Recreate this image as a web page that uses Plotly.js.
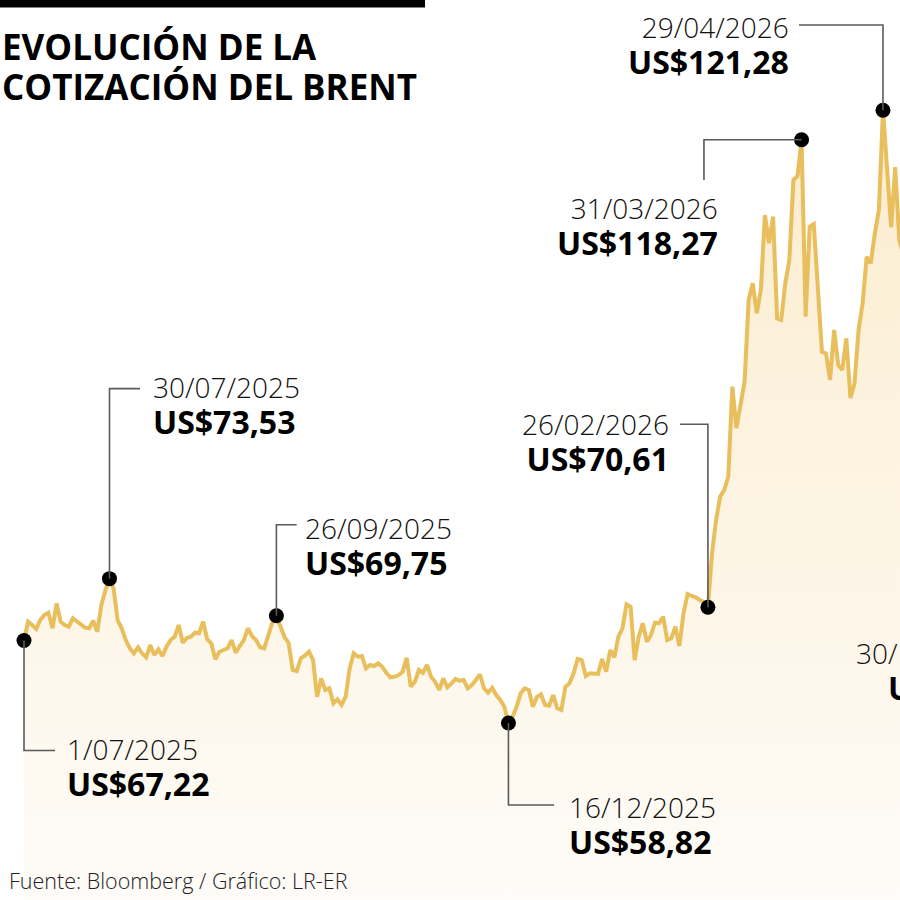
<!DOCTYPE html>
<html>
<head>
<meta charset="utf-8">
<script src="https://cdn.plot.ly/plotly-3.0.1.min.js"></script>
<style>
  html, body { margin: 0; padding: 0; background: #ffffff; }
  #chart { width: 900px; height: 900px; }
</style>
</head>
<body>
<div id="chart"></div>
<script>
// ---- Data (Brent, US$ per barrel, one value per trading day from 1/07/2025) ----
const startDate = '2025-07-01';
const marketHolidays = ['2025-08-25', '2025-12-25', '2025-12-26', '2026-01-01', '2026-04-03'];

const valuesJulAug = [
  67.22, 69.14, 68.80, 68.40, 69.31, 69.82, 70.06, 68.47, 71.01, 69.14,
  68.80, 68.63, 69.49, 69.14, 68.90, 68.53, 68.47, 69.24, 68.12, 70.84,
  72.37, 73.53, 72.54, 69.31, 68.47, 67.27, 66.43, 65.92, 66.53, 65.92,
  65.51, 66.76, 65.74, 66.32, 65.64, 66.59, 67.27, 67.61, 68.80, 67.00,
  67.48, 67.61, 68.02
];
const valuesSepOct = [
  67.96, 69.14, 67.35, 66.94, 65.31, 66.08, 66.25, 66.43, 67.27, 65.98,
  66.66, 67.27, 68.47, 67.68, 67.27, 66.53, 66.43, 67.61, 69.04, 69.75,
  68.70, 67.58, 66.97, 64.22, 64.11, 65.41, 65.67, 66.08, 65.23, 61.49,
  63.37, 62.18, 62.35, 60.82, 61.23, 60.65, 61.49, 64.39, 65.92, 65.57,
  65.64, 64.39, 64.73, 64.62, 64.90
];
const valuesNovDec = [
  64.55, 63.94, 63.47, 63.53, 63.70, 64.04, 65.47, 62.51, 63.02, 64.22,
  63.94, 64.73, 63.53, 63.02, 62.18, 63.37, 62.45, 62.86, 63.30, 63.12,
  63.20, 62.35, 62.69, 63.20, 63.78, 62.35, 61.90, 62.41, 61.66, 61.16,
  60.47, 58.82, 59.45, 60.47, 61.84, 62.35, 62.18, 60.47, 61.49, 61.74,
  60.65, 60.58, 61.66
];
const valuesJanFeb = [
  60.31, 60.14, 62.51, 62.86, 63.88, 65.34, 65.23, 63.60, 63.88, 63.81,
  63.81, 65.34, 64.04, 66.25, 65.51, 67.61, 68.47, 70.91, 70.67, 65.23,
  67.61, 68.98, 67.10, 67.78, 69.04, 68.98, 69.65, 67.27, 67.45, 68.63,
  66.66, 70.00, 71.96, 71.76, 71.63, 71.35, 71.15, 70.61
];
const valuesMarMay = [
  76.11, 79.51, 81.88, 82.56, 83.92, 93.10, 88.86, 91.23, 93.61, 101.93,
  103.64, 100.58, 102.95, 110.60, 107.72, 110.43, 100.07, 99.90, 103.64, 106.01,
  114.17, 114.58, 118.27, 100.23, 109.41, 109.68, 103.29, 96.66, 96.50, 93.78,
  98.88, 95.31, 94.80, 98.03, 91.94, 93.44, 98.88, 101.60, 106.35, 105.68,
  108.74, 111.11, 121.28, 115.39, 109.38, 115.49, 108.05, 106.52
];

// Highlighted points
const keyDates       = ['2025-07-01', '2025-07-30', '2025-09-26', '2025-12-16', '2026-02-26', '2026-03-31', '2026-04-29'];
const keyValues      = [67.22, 73.53, 69.75, 58.82, 70.61, 118.27, 121.28];
const keyDateLabels  = ['1/07/2025', '30/07/2025', '26/09/2025', '16/12/2025', '26/02/2026', '31/03/2026', '29/04/2026'];
const keyValueLabels = ['US$67,22', 'US$73,53', 'US$69,75', 'US$58,82', 'US$70,61', 'US$118,27', 'US$121,28'];

const titleLines = ['EVOLUCIÓN DE LA', 'COTIZACIÓN DEL BRENT'];
const sourceText = 'Fuente: Bloomberg / Gráfico: LR-ER';
const lastDateLabel = '30/';   // label cut by the right edge of the picture
const lastValueLabel = 'U';

// ---- Build trading-day calendar ----
const brentValues = [].concat(valuesJulAug, valuesSepOct, valuesNovDec, valuesJanFeb, valuesMarMay);
function tradingDays(start, n, holidays) {
  const out = [];
  const d = new Date(start + 'T00:00:00Z');
  while (out.length < n) {
    const dow = d.getUTCDay();
    const s = d.toISOString().slice(0, 10);
    if (dow !== 0 && dow !== 6 && holidays.indexOf(s) === -1) out.push(s);
    d.setUTCDate(d.getUTCDate() + 1);
  }
  return out;
}
const brentDates = tradingDays(startDate, brentValues.length, marketHolidays);

// ---- Styles ----
const FAMILY = 'Open Sans, Noto Sans, sans-serif';
const lineColor = '#e8bf5c';
const leaderColor = '#5a5a5a';
const labelFont = { family: FAMILY, size: 28, weight: 300, color: '#111111' };
const valueSpan = '<span style="font-size:32px;font-weight:700;fill:#000000">';

// label placement per key point (pixels relative to the dot): [side, dx, dy]
const labelPlacement = [
  ['left',   40.5,  -87.6],
  ['left',   41.5,  212.8],
  ['left',   26.6,  108.3],
  ['left',   59.0,  -62.9],
  ['right', -37.0,  204.2],
  ['right', -81.6,  -47.6],
  ['right', -92.2,  104.5]
];
// leader paths (pixels relative to the dot, y up)
const leaderPaths = [
  'M0,0 V-110 H31',
  'M0,0 V190 H30.5',
  'M0,0 V91 H20.3',
  'M0,0 V-82 H45.6',
  'M0,0 V183 H-28',
  'M0,0 H-97.6 V-40.2',
  'M0,0 V85.3 H-84'
];

const traces = [
  {
    x: brentDates,
    y: brentValues,
    type: 'scatter',
    mode: 'lines',
    line: { color: lineColor, width: 4, shape: 'linear' },
    fill: 'tozeroy',
    fillgradient: {
      type: 'vertical',
      start: 40.77,
      stop: 121.3,
      colorscale: [[0, 'rgb(254,252,248)'], [1, 'rgb(251,236,206)']]
    },
    hoverinfo: 'skip'
  },
  {
    x: keyDates,
    y: keyValues,
    type: 'scatter',
    mode: 'markers',
    marker: { color: '#000000', size: 15 },
    hoverinfo: 'skip'
  }
];

const shapes = [
  { type: 'rect', xref: 'paper', yref: 'paper', x0: 0, x1: 425 / 900, y0: 1, y1: 1 - 7.5 / 900,
    fillcolor: '#000000', line: { width: 0 }, layer: 'above' }
];
keyDates.forEach(function (d, k) {
  shapes.push({
    type: 'path', xref: 'x', yref: 'y',
    xsizemode: 'pixel', ysizemode: 'pixel',
    xanchor: d, yanchor: keyValues[k],
    path: leaderPaths[k],
    line: { color: leaderColor, width: 1.6 },
    layer: 'above'
  });
});

const annotations = [];
keyDates.forEach(function (d, k) {
  const p = labelPlacement[k];
  annotations.push({
    x: d, y: keyValues[k], xref: 'x', yref: 'y', showarrow: false,
    text: keyDateLabels[k] + '<br>' + valueSpan + keyValueLabels[k] + '</span>',
    font: labelFont, align: p[0],
    xanchor: p[0], yanchor: 'top', xshift: p[1], yshift: p[2]
  });
});
// last label, cut by the right edge
annotations.push({
  x: 854 / 900, y: 1 - 632.4 / 900, xref: 'paper', yref: 'paper', showarrow: false,
  text: lastDateLabel + '<br>' + valueSpan + '\u2002\u2002' + lastValueLabel + '</span>',
  font: labelFont, align: 'left', xanchor: 'left', yanchor: 'top'
});
// title
annotations.push({
  x: 0, y: 1 - 20.9 / 900, xref: 'paper', yref: 'paper', showarrow: false,
  text: '<span style="font-size:35px">' + titleLines[0] + '</span><br>' +
        '<span style="font-size:35px">' + titleLines[1] + '</span>',
  xanchor: 'left', yanchor: 'top', align: 'left',
  font: { family: FAMILY, size: 30.8, weight: 700, color: '#000000' }
});
// source
annotations.push({
  x: 7 / 900, y: 1 - 880 / 900, xref: 'paper', yref: 'paper', showarrow: false,
  text: sourceText, xanchor: 'left', yanchor: 'middle',
  font: { family: FAMILY, size: 21.5, weight: 300, color: '#222222' }
});

const layout = {
  width: 900,
  height: 900,
  margin: { l: 0, r: 0, t: 0, b: 0, pad: 0 },
  paper_bgcolor: '#ffffff',
  plot_bgcolor: 'rgba(0,0,0,0)',
  showlegend: false,
  xaxis: {
    type: 'category',
    range: [-5.895, 215.18],
    visible: false,
    showgrid: false,
    zeroline: false,
    fixedrange: true
  },
  yaxis: {
    range: [40.77, 132.52],
    visible: false,
    showgrid: false,
    zeroline: false,
    fixedrange: true
  },
  shapes: shapes,
  annotations: annotations
};

Plotly.newPlot('chart', traces, layout, { staticPlot: true, displayModeBar: false });
</script>
</body>
</html>
